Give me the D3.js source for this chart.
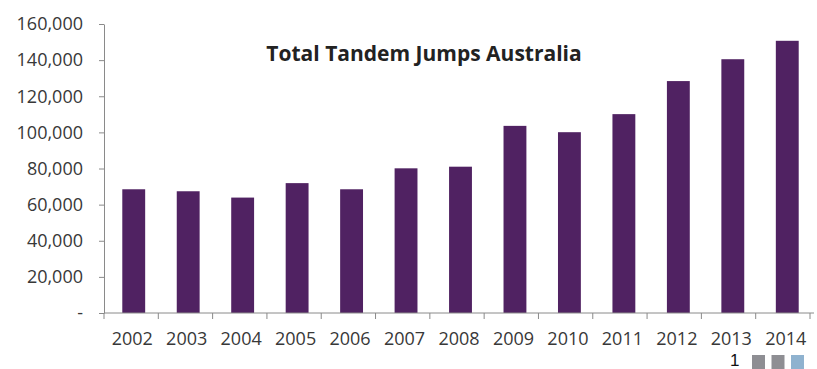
<!DOCTYPE html>
<html><head><meta charset="utf-8">
<script src="https://cdn.jsdelivr.net/npm/d3@7/dist/d3.min.js"></script>
<style>body{margin:0;background:#fff;}svg{display:block;}</style>
</head><body><svg id="c" width="817" height="369"></svg>
<script>
const years = ["2002","2003","2004","2005","2006","2007","2008","2009","2010","2011","2012","2013","2014"];
const jumps = [68500,67400,63900,71900,68500,80100,81000,103600,100100,110100,128400,140500,150700];
const yTicks = [0,20000,40000,60000,80000,100000,120000,140000,160000];
const title = "Total Tandem Jumps Australia";

const svg = d3.select("#c");
const x = d3.scaleBand().domain(years).range([105, 813]).paddingInner(0.58).paddingOuter(0.29);
const y = d3.scaleLinear().domain([0,160000]).range([313, 24]);
const axisColor = "#8a8a8a";
const font = "'Open Sans', sans-serif";

svg.append("g").selectAll("rect").data(years).join("rect")
  .attr("x", d => x(d)+1.5).attr("width", x.bandwidth())
  .attr("y", (d,i) => y(jumps[i])).attr("height", (d,i) => y(0)-y(jumps[i]))
  .attr("fill", "#502262");

const fmt = v => v === 0 ? "-" : d3.format(",")(v);
const ya = svg.append("g").attr("transform","translate(104,0)")
  .call(d3.axisLeft(y).tickValues(yTicks).tickFormat(fmt).tickSize(5).tickSizeOuter(0).tickPadding(16));
ya.select(".domain").attr("stroke", axisColor);
ya.selectAll(".tick line").attr("stroke", axisColor);
ya.selectAll("text").attr("font-family", font).attr("font-size", 18).attr("fill", "#383838");

const xa = svg.append("g").attr("transform","translate(0,313)")
  .call(d3.axisBottom(x).tickSize(0).tickSizeOuter(0).tickPadding(19));
xa.select(".domain").attr("stroke", axisColor).attr("d", "M104,0H814");
xa.selectAll("text").attr("font-family", font).attr("font-size", 18).attr("fill", "#383838");
// category boundary ticks
svg.append("g").selectAll("line").data(d3.range(years.length+1)).join("line")
  .attr("x1", i => 104 + i*(810-104)/years.length).attr("x2", i => 104 + i*(810-104)/years.length)
  .attr("y1", 313).attr("y2", 319).attr("stroke", axisColor);

svg.append("text").attr("x", 424).attr("y", 61).attr("text-anchor","middle")
  .attr("font-family", font).attr("font-weight", "bold").attr("font-size", 21).attr("fill","#222")
  .text(title);

// footer marker
svg.append("text").attr("x", 730).attr("y", 366).attr("font-family","'Liberation Sans', Arial, sans-serif")
  .attr("font-size", 17).attr("fill","#111").text("1");
const sq = [{c:"#8e8e93"},{c:"#8e8e93"},{c:"#8fb2cf"}];
svg.append("g").selectAll("rect").data(sq).join("rect")
  .attr("x", (d,i) => 752 + i*19.5).attr("y", 355).attr("width", 13).attr("height", 14).attr("fill", d => d.c);
</script></body></html>
